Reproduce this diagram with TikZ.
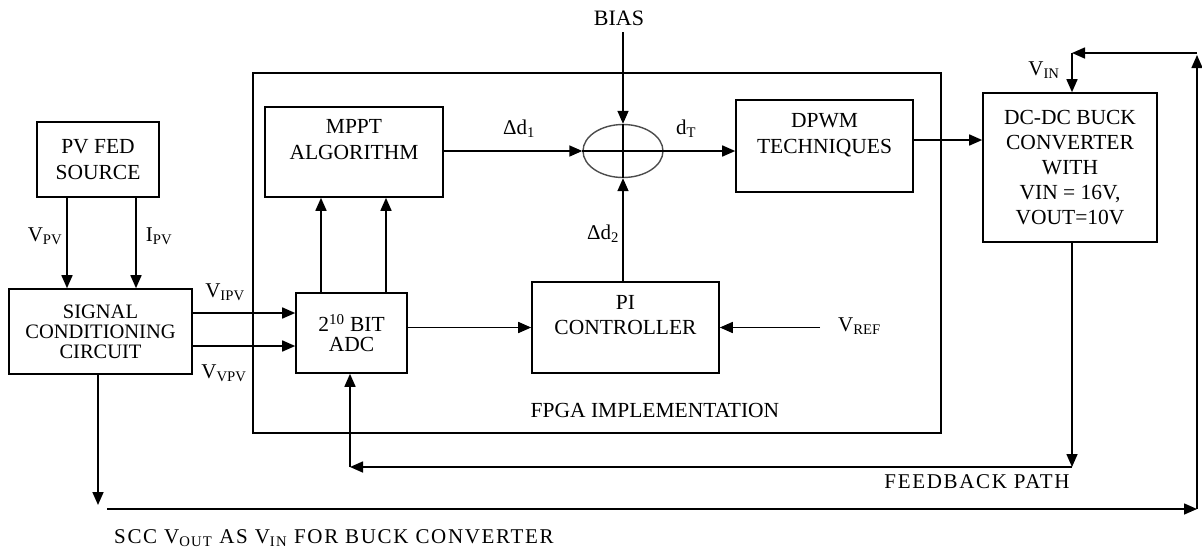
\documentclass[tikz,border=0pt]{standalone}
\usepackage{fontspec}
\setmainfont{Liberation Serif}
\newfontfamily\ancho[LetterSpace=8]{Liberation Serif}
\usetikzlibrary{arrows.meta,shapes.geometric}
\tikzset{
  bloque/.style={draw, line width=1.6pt, align=center, inner sep=0pt, font=\fontsize{21.5}{26}\selectfont},
  etiqueta/.style={inner sep=0pt, font=\fontsize{21}{24}\selectfont},
  flecha/.style={-{Triangle[length=13pt,width=11pt]}, line width=1.6pt},
  linea/.style={line width=1.4pt},
}
\begin{document}
\begin{tikzpicture}[x=1pt, y=-1pt]
    \useasboundingbox (0,0) rectangle (1202,550);

    % Bloques principales
    \node[bloque, minimum width=122pt, minimum height=75pt] (pv) at (98,159.5) {PV FED\\SOURCE};
    \node[bloque, minimum width=183pt, minimum height=85pt, font=\fontsize{20.5}{20}\selectfont] (scc) at (100.5,331.5) {SIGNAL\\CONDITIONING\\CIRCUIT};
    \node[bloque, minimum width=688pt, minimum height=360pt] (fpga) at (597,253) {};
    \node[bloque, minimum width=111pt, minimum height=80pt, font=\fontsize{21.5}{20}\selectfont] (adc) at (351.5,333) {2\textsuperscript{10} BIT\\ADC};
    \node[bloque, minimum width=178pt, minimum height=90pt] (mppt) at (354,152) {MPPT\\ALGORITHM\\\mbox{}};
    \node[bloque, minimum width=187pt, minimum height=91pt, font=\fontsize{21.5}{25}\selectfont] (pi) at (625.5,327.5) {PI\\CONTROLLER\\\mbox{}};
    \node[bloque, minimum width=177pt, minimum height=92pt] (dpwm) at (824.5,146) {DPWM\\TECHNIQUES\\\mbox{}};
    \node[bloque, minimum width=174pt, minimum height=149pt, font=\fontsize{21.5}{25}\selectfont] (buck) at (1070,167.5) {DC-DC BUCK\\CONVERTER\\WITH\\VIN = 16V,\\VOUT=10V};

    % Sumador
    \node[draw, ellipse, line width=1.4pt, draw=black!70, minimum width=80pt, minimum height=53pt, inner sep=0pt] (sum) at (623,151) {};
    \draw[linea] (sum.west) -- (sum.east);
    \draw[linea] (sum.north) -- (sum.south);

    % Etiquetas
    \node[etiqueta, font=\fontsize{22}{24}\selectfont] (bias) at (619,18) {BIAS};
    \node[etiqueta] (vpv) at (45,236) {V\textsubscript{PV}};
    \node[etiqueta] (ipv) at (159,236) {I\textsubscript{PV}};
    \node[etiqueta] (vipv) at (225,292) {V\textsubscript{IPV}};
    \node[etiqueta] (vvpv) at (224,373) {V\textsubscript{VPV}};
    \node[etiqueta] (dd1) at (519,129) {Δd\textsubscript{1}};
    \node[etiqueta] (dt) at (686,129) {d\textsubscript{T}};
    \node[etiqueta] (dd2) at (603,234) {Δd\textsubscript{2}};
    \node[etiqueta] (vin) at (1044,70) {V\textsubscript{IN}};
    \node[etiqueta, anchor=west] (vref) at (838,326) {V\textsubscript{REF}};
    \node[etiqueta, font=\fontsize{21.5}{24}\selectfont] (fpgatxt) at (655,410) {FPGA IMPLEMENTATION};
    \node[etiqueta, font=\fontsize{21}{24}\ancho] (fbtxt) at (977,482) {FEEDBACK PATH};
    \node[etiqueta, anchor=west, font=\fontsize{21}{24}\ancho] (scctxt) at (114,538) {SCC V\textsubscript{OUT} AS V\textsubscript{IN} FOR BUCK CONVERTER};

    % Puntos auxiliares
    \coordinate (biasin) at (623,32);
    \coordinate (fbR) at (1072,467);
    \coordinate (fbL) at (350,467);
    \coordinate (sccdn) at (98,505);
    \coordinate (botL) at (107,509);
    \coordinate (botR) at (1197,509);
    \coordinate (topR) at (1197,53);
    \coordinate (topL) at (1072,53);

    % Conexiones
    \draw[flecha] ([xshift=-31pt]pv.south) -- ([xshift=-31pt]pv.south |- scc.north);
    \draw[flecha] ([xshift=38pt]pv.south) -- ([xshift=38pt]pv.south |- scc.north);
    \draw[flecha] ([yshift=18.5pt]scc.east) -- ([yshift=18.5pt]scc.east -| adc.west);
    \draw[flecha] ([yshift=-14.5pt]scc.east) -- ([yshift=-14.5pt]scc.east -| adc.west);
    \draw[flecha] ([xshift=-30.5pt]adc.north) -- ([xshift=-30.5pt]adc.north |- mppt.south);
    \draw[flecha] ([xshift=34.5pt]adc.north) -- ([xshift=34.5pt]adc.north |- mppt.south);
    \draw[flecha] (mppt.east |- sum.west) -- (sum.west);
    \draw[flecha] (biasin) -- (sum.north);
    \draw[flecha] (sum.east) -- (sum.east -| dpwm.west);
    \draw[flecha] (pi.north -| sum.south) -- (sum.south);
    \draw[flecha] (adc.east |- pi.west) -- (pi.west);
    \draw[flecha] ([xshift=-18pt]vref.west |- pi.east) -- (pi.east);
    \draw[flecha] ([yshift=6pt]dpwm.east) -- ([yshift=6pt]dpwm.east -| buck.west);

    % Realimentacion
    \draw[flecha] (buck.south -| fbR) -- (fbR);
    \draw[flecha] (fbR) -- (fbL);
    \draw[flecha] (fbL) -- (fbL |- adc.south);

    % Salida del SCC hacia el convertidor
    \draw[flecha] (scc.south -| sccdn) -- (sccdn);
    \draw[flecha] (botL) -- (botR);
    \draw[flecha] (botR) -- ([yshift=-2pt]topR);
    \draw[flecha] (topR) -- (topL);
    \draw[flecha] (topL) -- (topL |- buck.north);
\end{tikzpicture}
\end{document}
